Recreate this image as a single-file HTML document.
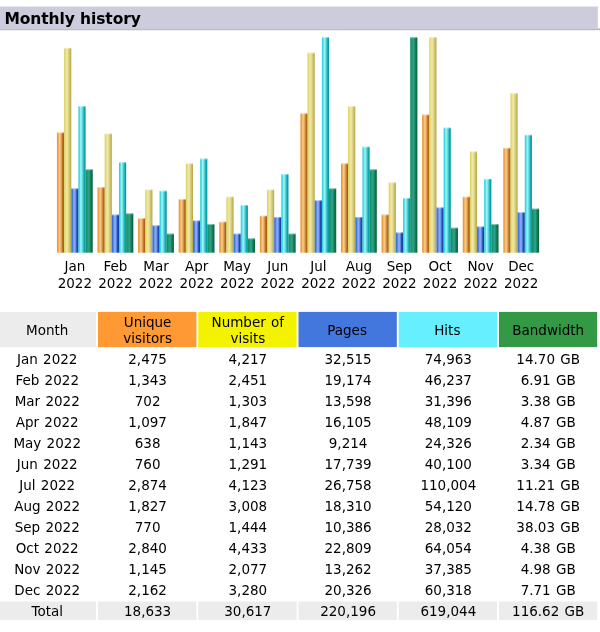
<!DOCTYPE html><html><head><meta charset="utf-8"><title>Monthly history</title><style>
html,body{margin:0;padding:0;background:#fff;}
body{width:600px;height:632px;position:relative;overflow:hidden;font-family:"DejaVu Sans","Liberation Sans",sans-serif;color:#000;font-size:13.5px;}
svg{position:absolute;left:0;top:0;}
.t{position:absolute;text-align:center;white-space:nowrap;word-spacing:1px;}
.tt{position:absolute;left:4.5px;top:7.8px;height:22px;line-height:22px;font-weight:bold;font-size:15.5px;white-space:nowrap;letter-spacing:-0.1px;}
</style></head><body>
<svg width="600" height="632" viewBox="0 0 600 632"><defs><linearGradient id="gu" x1="0" y1="0" x2="1" y2="0"><stop offset="0%" stop-color="#DE9434"/><stop offset="18%" stop-color="#EFA64E"/><stop offset="36%" stop-color="#FCCC88"/><stop offset="50%" stop-color="#F0B870"/><stop offset="64%" stop-color="#D89850"/><stop offset="80%" stop-color="#B87020"/><stop offset="100%" stop-color="#9E5606"/></linearGradient><linearGradient id="gv" x1="0" y1="0" x2="1" y2="0"><stop offset="0%" stop-color="#D6CE54"/><stop offset="18%" stop-color="#E6DE7C"/><stop offset="36%" stop-color="#F0E8A2"/><stop offset="50%" stop-color="#E8E09E"/><stop offset="64%" stop-color="#D8D086"/><stop offset="80%" stop-color="#C8BE66"/><stop offset="100%" stop-color="#B6A646"/></linearGradient><linearGradient id="gp" x1="0" y1="0" x2="1" y2="0"><stop offset="0%" stop-color="#3A6CD8"/><stop offset="15%" stop-color="#3A76EA"/><stop offset="36%" stop-color="#82A8F8"/><stop offset="50%" stop-color="#88A8F0"/><stop offset="64%" stop-color="#5C84D6"/><stop offset="80%" stop-color="#224AB2"/><stop offset="100%" stop-color="#0C38A2"/></linearGradient><linearGradient id="gh" x1="0" y1="0" x2="1" y2="0"><stop offset="0%" stop-color="#26C6D6"/><stop offset="16%" stop-color="#40E0E8"/><stop offset="32%" stop-color="#98F8F8"/><stop offset="45%" stop-color="#88E8E8"/><stop offset="58%" stop-color="#60D0D8"/><stop offset="72%" stop-color="#30B8C0"/><stop offset="86%" stop-color="#08A0A8"/><stop offset="100%" stop-color="#069A9C"/></linearGradient><linearGradient id="gk" x1="0" y1="0" x2="1" y2="0"><stop offset="0%" stop-color="#068C5C"/><stop offset="18%" stop-color="#189870"/><stop offset="36%" stop-color="#2E9E86"/><stop offset="50%" stop-color="#2E9E86"/><stop offset="64%" stop-color="#1E8666"/><stop offset="80%" stop-color="#0E744C"/><stop offset="100%" stop-color="#06623A"/></linearGradient></defs><rect x="0.00" y="6.00" width="597.80" height="1.00" fill="#EEEEF3"/><rect x="0.00" y="6.80" width="597.80" height="21.70" fill="#CCCCDD"/><rect x="0.00" y="27.90" width="600.00" height="1.15" fill="#CCCCDD"/><rect x="0.00" y="29.00" width="600.00" height="1.30" fill="#BCBCC4"/><rect x="0.00" y="30.30" width="600.00" height="0.70" fill="#F0F0F3"/><rect x="56.95" y="132.46" width="7.16" height="120.24" fill="url(#gu)"/><rect x="56.95" y="132.46" width="7.16" height="0.90" fill="#fff" fill-opacity="0.4"/><rect x="64.11" y="47.93" width="7.16" height="204.77" fill="url(#gv)"/><rect x="64.11" y="47.93" width="7.16" height="0.90" fill="#fff" fill-opacity="0.4"/><rect x="71.27" y="188.41" width="7.16" height="64.29" fill="url(#gp)"/><rect x="71.27" y="188.41" width="7.16" height="0.90" fill="#fff" fill-opacity="0.4"/><rect x="78.43" y="106.27" width="7.16" height="146.43" fill="url(#gh)"/><rect x="78.43" y="106.27" width="7.16" height="0.90" fill="#fff" fill-opacity="0.4"/><rect x="85.59" y="169.37" width="7.16" height="83.33" fill="url(#gk)"/><rect x="85.59" y="169.37" width="7.16" height="0.90" fill="#fff" fill-opacity="0.4"/><rect x="97.53" y="187.22" width="7.16" height="65.48" fill="url(#gu)"/><rect x="97.53" y="187.22" width="7.16" height="0.90" fill="#fff" fill-opacity="0.4"/><rect x="104.69" y="133.65" width="7.16" height="119.05" fill="url(#gv)"/><rect x="104.69" y="133.65" width="7.16" height="0.90" fill="#fff" fill-opacity="0.4"/><rect x="111.85" y="214.60" width="7.16" height="38.10" fill="url(#gp)"/><rect x="111.85" y="214.60" width="7.16" height="0.90" fill="#fff" fill-opacity="0.4"/><rect x="119.01" y="162.22" width="7.16" height="90.48" fill="url(#gh)"/><rect x="119.01" y="162.22" width="7.16" height="0.90" fill="#fff" fill-opacity="0.4"/><rect x="126.17" y="213.41" width="7.16" height="39.29" fill="url(#gk)"/><rect x="126.17" y="213.41" width="7.16" height="0.90" fill="#fff" fill-opacity="0.4"/><rect x="138.11" y="218.18" width="7.16" height="34.52" fill="url(#gu)"/><rect x="138.11" y="218.18" width="7.16" height="0.90" fill="#fff" fill-opacity="0.4"/><rect x="145.27" y="189.60" width="7.16" height="63.10" fill="url(#gv)"/><rect x="145.27" y="189.60" width="7.16" height="0.90" fill="#fff" fill-opacity="0.4"/><rect x="152.43" y="225.32" width="7.16" height="27.38" fill="url(#gp)"/><rect x="152.43" y="225.32" width="7.16" height="0.90" fill="#fff" fill-opacity="0.4"/><rect x="159.59" y="190.79" width="7.16" height="61.91" fill="url(#gh)"/><rect x="159.59" y="190.79" width="7.16" height="0.90" fill="#fff" fill-opacity="0.4"/><rect x="166.75" y="233.65" width="7.16" height="19.05" fill="url(#gk)"/><rect x="166.75" y="233.65" width="7.16" height="0.90" fill="#fff" fill-opacity="0.4"/><rect x="178.69" y="199.13" width="7.16" height="53.57" fill="url(#gu)"/><rect x="178.69" y="199.13" width="7.16" height="0.90" fill="#fff" fill-opacity="0.4"/><rect x="185.85" y="163.41" width="7.16" height="89.29" fill="url(#gv)"/><rect x="185.85" y="163.41" width="7.16" height="0.90" fill="#fff" fill-opacity="0.4"/><rect x="193.01" y="220.56" width="7.16" height="32.14" fill="url(#gp)"/><rect x="193.01" y="220.56" width="7.16" height="0.90" fill="#fff" fill-opacity="0.4"/><rect x="200.17" y="158.65" width="7.16" height="94.05" fill="url(#gh)"/><rect x="200.17" y="158.65" width="7.16" height="0.90" fill="#fff" fill-opacity="0.4"/><rect x="207.33" y="224.13" width="7.16" height="28.57" fill="url(#gk)"/><rect x="207.33" y="224.13" width="7.16" height="0.90" fill="#fff" fill-opacity="0.4"/><rect x="219.27" y="221.75" width="7.16" height="30.95" fill="url(#gu)"/><rect x="219.27" y="221.75" width="7.16" height="0.90" fill="#fff" fill-opacity="0.4"/><rect x="226.43" y="196.75" width="7.16" height="55.95" fill="url(#gv)"/><rect x="226.43" y="196.75" width="7.16" height="0.90" fill="#fff" fill-opacity="0.4"/><rect x="233.59" y="233.65" width="7.16" height="19.05" fill="url(#gp)"/><rect x="233.59" y="233.65" width="7.16" height="0.90" fill="#fff" fill-opacity="0.4"/><rect x="240.75" y="205.08" width="7.16" height="47.62" fill="url(#gh)"/><rect x="240.75" y="205.08" width="7.16" height="0.90" fill="#fff" fill-opacity="0.4"/><rect x="247.91" y="238.41" width="7.16" height="14.29" fill="url(#gk)"/><rect x="247.91" y="238.41" width="7.16" height="0.90" fill="#fff" fill-opacity="0.4"/><rect x="259.85" y="215.79" width="7.16" height="36.91" fill="url(#gu)"/><rect x="259.85" y="215.79" width="7.16" height="0.90" fill="#fff" fill-opacity="0.4"/><rect x="267.01" y="189.60" width="7.16" height="63.10" fill="url(#gv)"/><rect x="267.01" y="189.60" width="7.16" height="0.90" fill="#fff" fill-opacity="0.4"/><rect x="274.17" y="216.98" width="7.16" height="35.72" fill="url(#gp)"/><rect x="274.17" y="216.98" width="7.16" height="0.90" fill="#fff" fill-opacity="0.4"/><rect x="281.33" y="174.13" width="7.16" height="78.57" fill="url(#gh)"/><rect x="281.33" y="174.13" width="7.16" height="0.90" fill="#fff" fill-opacity="0.4"/><rect x="288.49" y="233.65" width="7.16" height="19.05" fill="url(#gk)"/><rect x="288.49" y="233.65" width="7.16" height="0.90" fill="#fff" fill-opacity="0.4"/><rect x="300.42" y="113.41" width="7.16" height="139.29" fill="url(#gu)"/><rect x="300.42" y="113.41" width="7.16" height="0.90" fill="#fff" fill-opacity="0.4"/><rect x="307.58" y="52.70" width="7.16" height="200.00" fill="url(#gv)"/><rect x="307.58" y="52.70" width="7.16" height="0.90" fill="#fff" fill-opacity="0.4"/><rect x="314.75" y="200.32" width="7.16" height="52.38" fill="url(#gp)"/><rect x="314.75" y="200.32" width="7.16" height="0.90" fill="#fff" fill-opacity="0.4"/><rect x="321.91" y="37.22" width="7.16" height="215.48" fill="url(#gh)"/><rect x="321.91" y="37.22" width="7.16" height="0.90" fill="#fff" fill-opacity="0.4"/><rect x="329.07" y="188.41" width="7.16" height="64.29" fill="url(#gk)"/><rect x="329.07" y="188.41" width="7.16" height="0.90" fill="#fff" fill-opacity="0.4"/><rect x="341.00" y="163.41" width="7.16" height="89.29" fill="url(#gu)"/><rect x="341.00" y="163.41" width="7.16" height="0.90" fill="#fff" fill-opacity="0.4"/><rect x="348.16" y="106.27" width="7.16" height="146.43" fill="url(#gv)"/><rect x="348.16" y="106.27" width="7.16" height="0.90" fill="#fff" fill-opacity="0.4"/><rect x="355.32" y="216.98" width="7.16" height="35.72" fill="url(#gp)"/><rect x="355.32" y="216.98" width="7.16" height="0.90" fill="#fff" fill-opacity="0.4"/><rect x="362.49" y="146.75" width="7.16" height="105.95" fill="url(#gh)"/><rect x="362.49" y="146.75" width="7.16" height="0.90" fill="#fff" fill-opacity="0.4"/><rect x="369.65" y="169.37" width="7.16" height="83.33" fill="url(#gk)"/><rect x="369.65" y="169.37" width="7.16" height="0.90" fill="#fff" fill-opacity="0.4"/><rect x="381.58" y="214.60" width="7.16" height="38.10" fill="url(#gu)"/><rect x="381.58" y="214.60" width="7.16" height="0.90" fill="#fff" fill-opacity="0.4"/><rect x="388.74" y="182.46" width="7.16" height="70.24" fill="url(#gv)"/><rect x="388.74" y="182.46" width="7.16" height="0.90" fill="#fff" fill-opacity="0.4"/><rect x="395.90" y="232.46" width="7.16" height="20.24" fill="url(#gp)"/><rect x="395.90" y="232.46" width="7.16" height="0.90" fill="#fff" fill-opacity="0.4"/><rect x="403.06" y="197.94" width="7.16" height="54.76" fill="url(#gh)"/><rect x="403.06" y="197.94" width="7.16" height="0.90" fill="#fff" fill-opacity="0.4"/><rect x="410.23" y="37.22" width="7.16" height="215.48" fill="url(#gk)"/><rect x="410.23" y="37.22" width="7.16" height="0.90" fill="#fff" fill-opacity="0.4"/><rect x="422.16" y="114.60" width="7.16" height="138.10" fill="url(#gu)"/><rect x="422.16" y="114.60" width="7.16" height="0.90" fill="#fff" fill-opacity="0.4"/><rect x="429.32" y="37.22" width="7.16" height="215.48" fill="url(#gv)"/><rect x="429.32" y="37.22" width="7.16" height="0.90" fill="#fff" fill-opacity="0.4"/><rect x="436.48" y="207.46" width="7.16" height="45.24" fill="url(#gp)"/><rect x="436.48" y="207.46" width="7.16" height="0.90" fill="#fff" fill-opacity="0.4"/><rect x="443.64" y="127.70" width="7.16" height="125.00" fill="url(#gh)"/><rect x="443.64" y="127.70" width="7.16" height="0.90" fill="#fff" fill-opacity="0.4"/><rect x="450.81" y="227.70" width="7.16" height="25.00" fill="url(#gk)"/><rect x="450.81" y="227.70" width="7.16" height="0.90" fill="#fff" fill-opacity="0.4"/><rect x="462.74" y="196.75" width="7.16" height="55.95" fill="url(#gu)"/><rect x="462.74" y="196.75" width="7.16" height="0.90" fill="#fff" fill-opacity="0.4"/><rect x="469.90" y="151.51" width="7.16" height="101.19" fill="url(#gv)"/><rect x="469.90" y="151.51" width="7.16" height="0.90" fill="#fff" fill-opacity="0.4"/><rect x="477.06" y="226.51" width="7.16" height="26.19" fill="url(#gp)"/><rect x="477.06" y="226.51" width="7.16" height="0.90" fill="#fff" fill-opacity="0.4"/><rect x="484.22" y="178.89" width="7.16" height="73.81" fill="url(#gh)"/><rect x="484.22" y="178.89" width="7.16" height="0.90" fill="#fff" fill-opacity="0.4"/><rect x="491.38" y="224.13" width="7.16" height="28.57" fill="url(#gk)"/><rect x="491.38" y="224.13" width="7.16" height="0.90" fill="#fff" fill-opacity="0.4"/><rect x="503.32" y="147.94" width="7.16" height="104.76" fill="url(#gu)"/><rect x="503.32" y="147.94" width="7.16" height="0.90" fill="#fff" fill-opacity="0.4"/><rect x="510.48" y="93.17" width="7.16" height="159.53" fill="url(#gv)"/><rect x="510.48" y="93.17" width="7.16" height="0.90" fill="#fff" fill-opacity="0.4"/><rect x="517.64" y="212.22" width="7.16" height="40.48" fill="url(#gp)"/><rect x="517.64" y="212.22" width="7.16" height="0.90" fill="#fff" fill-opacity="0.4"/><rect x="524.80" y="134.84" width="7.16" height="117.86" fill="url(#gh)"/><rect x="524.80" y="134.84" width="7.16" height="0.90" fill="#fff" fill-opacity="0.4"/><rect x="531.96" y="208.65" width="7.16" height="44.05" fill="url(#gk)"/><rect x="531.96" y="208.65" width="7.16" height="0.90" fill="#fff" fill-opacity="0.4"/><rect x="0.00" y="311.90" width="96.00" height="35.20" fill="#ECECEC"/><rect x="98.00" y="311.90" width="98.40" height="35.20" fill="#FF9933"/><rect x="198.25" y="311.90" width="98.35" height="35.20" fill="#F3F300"/><rect x="298.50" y="311.90" width="98.30" height="35.20" fill="#4477DD"/><rect x="398.75" y="311.90" width="98.25" height="35.20" fill="#66F0FF"/><rect x="499.00" y="311.90" width="98.20" height="35.20" fill="#339944"/><rect x="0.00" y="601.50" width="96.00" height="18.50" fill="#ECECEC"/><rect x="98.00" y="601.50" width="98.40" height="18.50" fill="#ECECEC"/><rect x="198.25" y="601.50" width="98.35" height="18.50" fill="#ECECEC"/><rect x="298.50" y="601.50" width="98.30" height="18.50" fill="#ECECEC"/><rect x="398.75" y="601.50" width="98.25" height="18.50" fill="#ECECEC"/><rect x="499.00" y="601.50" width="98.20" height="18.50" fill="#ECECEC"/></svg>
<div class="tt">Monthly history</div>
<div class="t" style="left:44.85px;top:256.83px;width:60px;height:18px;line-height:18px;">Jan</div>
<div class="t" style="left:44.85px;top:273.53px;width:60px;height:18px;line-height:18px;">2022</div>
<div class="t" style="left:85.43px;top:256.83px;width:60px;height:18px;line-height:18px;">Feb</div>
<div class="t" style="left:85.43px;top:273.53px;width:60px;height:18px;line-height:18px;">2022</div>
<div class="t" style="left:126.01px;top:256.83px;width:60px;height:18px;line-height:18px;">Mar</div>
<div class="t" style="left:126.01px;top:273.53px;width:60px;height:18px;line-height:18px;">2022</div>
<div class="t" style="left:166.59px;top:256.83px;width:60px;height:18px;line-height:18px;">Apr</div>
<div class="t" style="left:166.59px;top:273.53px;width:60px;height:18px;line-height:18px;">2022</div>
<div class="t" style="left:207.17px;top:256.83px;width:60px;height:18px;line-height:18px;">May</div>
<div class="t" style="left:207.17px;top:273.53px;width:60px;height:18px;line-height:18px;">2022</div>
<div class="t" style="left:247.75px;top:256.83px;width:60px;height:18px;line-height:18px;">Jun</div>
<div class="t" style="left:247.75px;top:273.53px;width:60px;height:18px;line-height:18px;">2022</div>
<div class="t" style="left:288.33px;top:256.83px;width:60px;height:18px;line-height:18px;">Jul</div>
<div class="t" style="left:288.33px;top:273.53px;width:60px;height:18px;line-height:18px;">2022</div>
<div class="t" style="left:328.91px;top:256.83px;width:60px;height:18px;line-height:18px;">Aug</div>
<div class="t" style="left:328.91px;top:273.53px;width:60px;height:18px;line-height:18px;">2022</div>
<div class="t" style="left:369.48px;top:256.83px;width:60px;height:18px;line-height:18px;">Sep</div>
<div class="t" style="left:369.48px;top:273.53px;width:60px;height:18px;line-height:18px;">2022</div>
<div class="t" style="left:410.06px;top:256.83px;width:60px;height:18px;line-height:18px;">Oct</div>
<div class="t" style="left:410.06px;top:273.53px;width:60px;height:18px;line-height:18px;">2022</div>
<div class="t" style="left:450.64px;top:256.83px;width:60px;height:18px;line-height:18px;">Nov</div>
<div class="t" style="left:450.64px;top:273.53px;width:60px;height:18px;line-height:18px;">2022</div>
<div class="t" style="left:491.22px;top:256.83px;width:60px;height:18px;line-height:18px;">Dec</div>
<div class="t" style="left:491.22px;top:273.53px;width:60px;height:18px;line-height:18px;">2022</div>
<div class="t" style="left:-12.80px;top:320.83px;width:120px;height:18px;line-height:18px;">Month</div>
<div class="t" style="left:87.60px;top:312.73px;width:120px;height:18px;line-height:18px;">Unique</div>
<div class="t" style="left:87.60px;top:328.93px;width:120px;height:18px;line-height:18px;">visitors</div>
<div class="t" style="left:187.85px;top:312.73px;width:120px;height:18px;line-height:18px;">Number of</div>
<div class="t" style="left:187.85px;top:328.93px;width:120px;height:18px;line-height:18px;">visits</div>
<div class="t" style="left:287.10px;top:320.83px;width:120px;height:18px;line-height:18px;">Pages</div>
<div class="t" style="left:387.35px;top:320.83px;width:120px;height:18px;line-height:18px;">Hits</div>
<div class="t" style="left:488.20px;top:320.83px;width:120px;height:18px;line-height:18px;">Bandwidth</div>
<div class="t" style="left:-12.80px;top:350.08px;width:120px;height:18px;line-height:18px;">Jan 2022</div>
<div class="t" style="left:87.60px;top:350.08px;width:120px;height:18px;line-height:18px;">2,475</div>
<div class="t" style="left:187.85px;top:350.08px;width:120px;height:18px;line-height:18px;">4,217</div>
<div class="t" style="left:288.10px;top:350.08px;width:120px;height:18px;line-height:18px;">32,515</div>
<div class="t" style="left:388.35px;top:350.08px;width:120px;height:18px;line-height:18px;">74,963</div>
<div class="t" style="left:488.20px;top:350.08px;width:120px;height:18px;line-height:18px;">14.70 GB</div>
<div class="t" style="left:-12.80px;top:371.05px;width:120px;height:18px;line-height:18px;">Feb 2022</div>
<div class="t" style="left:87.60px;top:371.05px;width:120px;height:18px;line-height:18px;">1,343</div>
<div class="t" style="left:187.85px;top:371.05px;width:120px;height:18px;line-height:18px;">2,451</div>
<div class="t" style="left:288.10px;top:371.05px;width:120px;height:18px;line-height:18px;">19,174</div>
<div class="t" style="left:388.35px;top:371.05px;width:120px;height:18px;line-height:18px;">46,237</div>
<div class="t" style="left:488.20px;top:371.05px;width:120px;height:18px;line-height:18px;">6.91 GB</div>
<div class="t" style="left:-12.80px;top:392.02px;width:120px;height:18px;line-height:18px;">Mar 2022</div>
<div class="t" style="left:87.60px;top:392.02px;width:120px;height:18px;line-height:18px;">702</div>
<div class="t" style="left:187.85px;top:392.02px;width:120px;height:18px;line-height:18px;">1,303</div>
<div class="t" style="left:288.10px;top:392.02px;width:120px;height:18px;line-height:18px;">13,598</div>
<div class="t" style="left:388.35px;top:392.02px;width:120px;height:18px;line-height:18px;">31,396</div>
<div class="t" style="left:488.20px;top:392.02px;width:120px;height:18px;line-height:18px;">3.38 GB</div>
<div class="t" style="left:-12.80px;top:412.99px;width:120px;height:18px;line-height:18px;">Apr 2022</div>
<div class="t" style="left:87.60px;top:412.99px;width:120px;height:18px;line-height:18px;">1,097</div>
<div class="t" style="left:187.85px;top:412.99px;width:120px;height:18px;line-height:18px;">1,847</div>
<div class="t" style="left:288.10px;top:412.99px;width:120px;height:18px;line-height:18px;">16,105</div>
<div class="t" style="left:388.35px;top:412.99px;width:120px;height:18px;line-height:18px;">48,109</div>
<div class="t" style="left:488.20px;top:412.99px;width:120px;height:18px;line-height:18px;">4.87 GB</div>
<div class="t" style="left:-12.80px;top:433.96px;width:120px;height:18px;line-height:18px;">May 2022</div>
<div class="t" style="left:87.60px;top:433.96px;width:120px;height:18px;line-height:18px;">638</div>
<div class="t" style="left:187.85px;top:433.96px;width:120px;height:18px;line-height:18px;">1,143</div>
<div class="t" style="left:288.10px;top:433.96px;width:120px;height:18px;line-height:18px;">9,214</div>
<div class="t" style="left:388.35px;top:433.96px;width:120px;height:18px;line-height:18px;">24,326</div>
<div class="t" style="left:488.20px;top:433.96px;width:120px;height:18px;line-height:18px;">2.34 GB</div>
<div class="t" style="left:-12.80px;top:454.93px;width:120px;height:18px;line-height:18px;">Jun 2022</div>
<div class="t" style="left:87.60px;top:454.93px;width:120px;height:18px;line-height:18px;">760</div>
<div class="t" style="left:187.85px;top:454.93px;width:120px;height:18px;line-height:18px;">1,291</div>
<div class="t" style="left:288.10px;top:454.93px;width:120px;height:18px;line-height:18px;">17,739</div>
<div class="t" style="left:388.35px;top:454.93px;width:120px;height:18px;line-height:18px;">40,100</div>
<div class="t" style="left:488.20px;top:454.93px;width:120px;height:18px;line-height:18px;">3.34 GB</div>
<div class="t" style="left:-12.80px;top:475.90px;width:120px;height:18px;line-height:18px;">Jul 2022</div>
<div class="t" style="left:87.60px;top:475.90px;width:120px;height:18px;line-height:18px;">2,874</div>
<div class="t" style="left:187.85px;top:475.90px;width:120px;height:18px;line-height:18px;">4,123</div>
<div class="t" style="left:288.10px;top:475.90px;width:120px;height:18px;line-height:18px;">26,758</div>
<div class="t" style="left:388.35px;top:475.90px;width:120px;height:18px;line-height:18px;">110,004</div>
<div class="t" style="left:488.20px;top:475.90px;width:120px;height:18px;line-height:18px;">11.21 GB</div>
<div class="t" style="left:-12.80px;top:496.87px;width:120px;height:18px;line-height:18px;">Aug 2022</div>
<div class="t" style="left:87.60px;top:496.87px;width:120px;height:18px;line-height:18px;">1,827</div>
<div class="t" style="left:187.85px;top:496.87px;width:120px;height:18px;line-height:18px;">3,008</div>
<div class="t" style="left:288.10px;top:496.87px;width:120px;height:18px;line-height:18px;">18,310</div>
<div class="t" style="left:388.35px;top:496.87px;width:120px;height:18px;line-height:18px;">54,120</div>
<div class="t" style="left:488.20px;top:496.87px;width:120px;height:18px;line-height:18px;">14.78 GB</div>
<div class="t" style="left:-12.80px;top:517.84px;width:120px;height:18px;line-height:18px;">Sep 2022</div>
<div class="t" style="left:87.60px;top:517.84px;width:120px;height:18px;line-height:18px;">770</div>
<div class="t" style="left:187.85px;top:517.84px;width:120px;height:18px;line-height:18px;">1,444</div>
<div class="t" style="left:288.10px;top:517.84px;width:120px;height:18px;line-height:18px;">10,386</div>
<div class="t" style="left:388.35px;top:517.84px;width:120px;height:18px;line-height:18px;">28,032</div>
<div class="t" style="left:488.20px;top:517.84px;width:120px;height:18px;line-height:18px;">38.03 GB</div>
<div class="t" style="left:-12.80px;top:538.81px;width:120px;height:18px;line-height:18px;">Oct 2022</div>
<div class="t" style="left:87.60px;top:538.81px;width:120px;height:18px;line-height:18px;">2,840</div>
<div class="t" style="left:187.85px;top:538.81px;width:120px;height:18px;line-height:18px;">4,433</div>
<div class="t" style="left:288.10px;top:538.81px;width:120px;height:18px;line-height:18px;">22,809</div>
<div class="t" style="left:388.35px;top:538.81px;width:120px;height:18px;line-height:18px;">64,054</div>
<div class="t" style="left:488.20px;top:538.81px;width:120px;height:18px;line-height:18px;">4.38 GB</div>
<div class="t" style="left:-12.80px;top:559.78px;width:120px;height:18px;line-height:18px;">Nov 2022</div>
<div class="t" style="left:87.60px;top:559.78px;width:120px;height:18px;line-height:18px;">1,145</div>
<div class="t" style="left:187.85px;top:559.78px;width:120px;height:18px;line-height:18px;">2,077</div>
<div class="t" style="left:288.10px;top:559.78px;width:120px;height:18px;line-height:18px;">13,262</div>
<div class="t" style="left:388.35px;top:559.78px;width:120px;height:18px;line-height:18px;">37,385</div>
<div class="t" style="left:488.20px;top:559.78px;width:120px;height:18px;line-height:18px;">4.98 GB</div>
<div class="t" style="left:-12.80px;top:580.75px;width:120px;height:18px;line-height:18px;">Dec 2022</div>
<div class="t" style="left:87.60px;top:580.75px;width:120px;height:18px;line-height:18px;">2,162</div>
<div class="t" style="left:187.85px;top:580.75px;width:120px;height:18px;line-height:18px;">3,280</div>
<div class="t" style="left:288.10px;top:580.75px;width:120px;height:18px;line-height:18px;">20,326</div>
<div class="t" style="left:388.35px;top:580.75px;width:120px;height:18px;line-height:18px;">60,318</div>
<div class="t" style="left:488.20px;top:580.75px;width:120px;height:18px;line-height:18px;">7.71 GB</div>
<div class="t" style="left:-12.80px;top:601.72px;width:120px;height:18px;line-height:18px;">Total</div>
<div class="t" style="left:87.60px;top:601.72px;width:120px;height:18px;line-height:18px;">18,633</div>
<div class="t" style="left:187.85px;top:601.72px;width:120px;height:18px;line-height:18px;">30,617</div>
<div class="t" style="left:288.10px;top:601.72px;width:120px;height:18px;line-height:18px;">220,196</div>
<div class="t" style="left:388.35px;top:601.72px;width:120px;height:18px;line-height:18px;">619,044</div>
<div class="t" style="left:488.20px;top:601.72px;width:120px;height:18px;line-height:18px;">116.62 GB</div>
</body></html>
